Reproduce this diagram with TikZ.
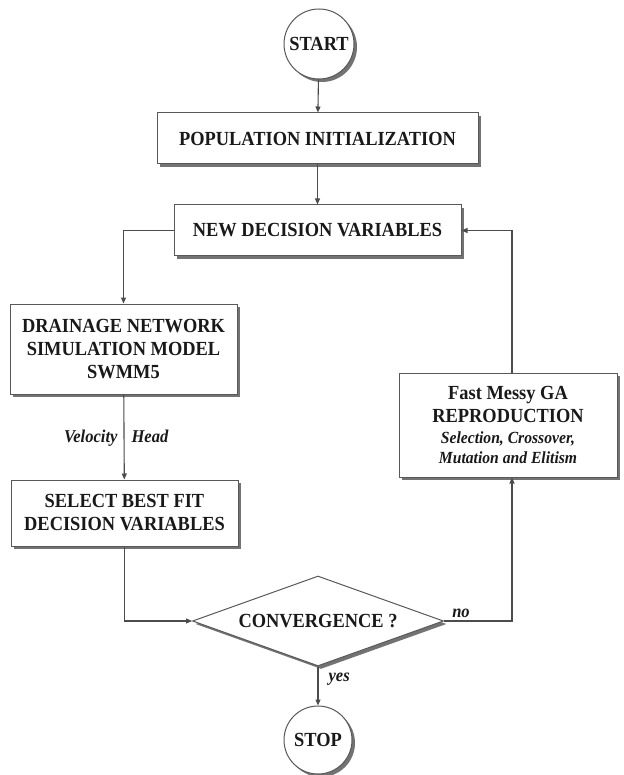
\documentclass[tikz,border=0pt]{standalone}
\usepackage{fontspec}
\setmainfont[FakeStretch=0.92]{Liberation Serif}
\usetikzlibrary{shapes.geometric,arrows.meta,shadows}
\begin{document}
\begin{tikzpicture}[x=1pt,y=-1pt,
  line/.style={draw=black!70, line width=1.1pt},
  arr/.style={line, -{Triangle[length=6pt,width=5pt]}},
  shad/.style={drop shadow={shadow xshift=3pt,shadow yshift=-3pt,fill=black!55,opacity=1}},
  base/.style={draw=black!65, line width=1pt, fill=white, shad, inner sep=0pt, text=black!90,
    font={\bfseries\fontsize{20}{23}\selectfont}},
  box/.style={base, rectangle, align=center},
  term/.style={base, circle},
  dec/.style={base, diamond, shape aspect=2.8},
  lab/.style={font={\bfseries\itshape\fontsize{18}{20}\selectfont}, inner sep=0pt, text=black!90}
]
\useasboundingbox (0,0) rectangle (623,775);
\fill[white] (0,0) rectangle (623,775);

\node[term, minimum size=70pt] (start) at (319,44) {START};
\node[box, minimum width=321pt, minimum height=51pt] (pop) at (317.5,138.5) {POPULATION INITIALIZATION};
\node[box, minimum width=287pt, minimum height=51pt] (new) at (317.5,230.5) {NEW DECISION VARIABLES};
\node[box, minimum width=227pt, minimum height=90pt] (drain) at (123.5,349) {DRAINAGE NETWORK\\SIMULATION MODEL\\SWMM5};
\node[box, minimum width=227pt, minimum height=66pt] (sel) at (124.5,513) {SELECT BEST FIT\\DECISION VARIABLES};
\node[dec, minimum width=251pt, minimum height=90pt] (conv) at (318,621) {CONVERGENCE ?};
\node[box, minimum width=218pt, minimum height=104pt] (fast) at (508,425)
  {Fast Messy GA\\REPRODUCTION\\[-2pt]{\itshape\fontsize{17}{19}\selectfont Selection, Crossover,}\\[-3pt]{\itshape\fontsize{17}{19}\selectfont Mutation and Elitism}};
\node[term, minimum size=68pt] (stop) at (318,740) {STOP};

\coordinate (rb) at (512,621);

\draw[arr] (start) -- (pop);
\draw[arr] (pop) -- (new);
\draw[arr] (new.west) -| (drain.north);
\draw[arr] (drain) -- node[lab, pos=0.49, anchor=base east, xshift=-6pt, yshift=-6pt] {Velocity}
  node[lab, pos=0.49, anchor=base west, xshift=7pt, yshift=-6pt] {Head} (sel);
\draw[arr] (sel.south) |- (conv.west);
\draw[arr] (conv.east) -- node[lab, pos=0.25, above=3pt] {no} (rb) -- (rb |- fast.south);
\draw[arr] (rb |- fast.north) -- (rb |- new.east) -- (new.east);
\draw[arr] (conv.south) -- node[lab, pos=0.33, right=10pt] {yes} (stop);
\end{tikzpicture}
\end{document}
